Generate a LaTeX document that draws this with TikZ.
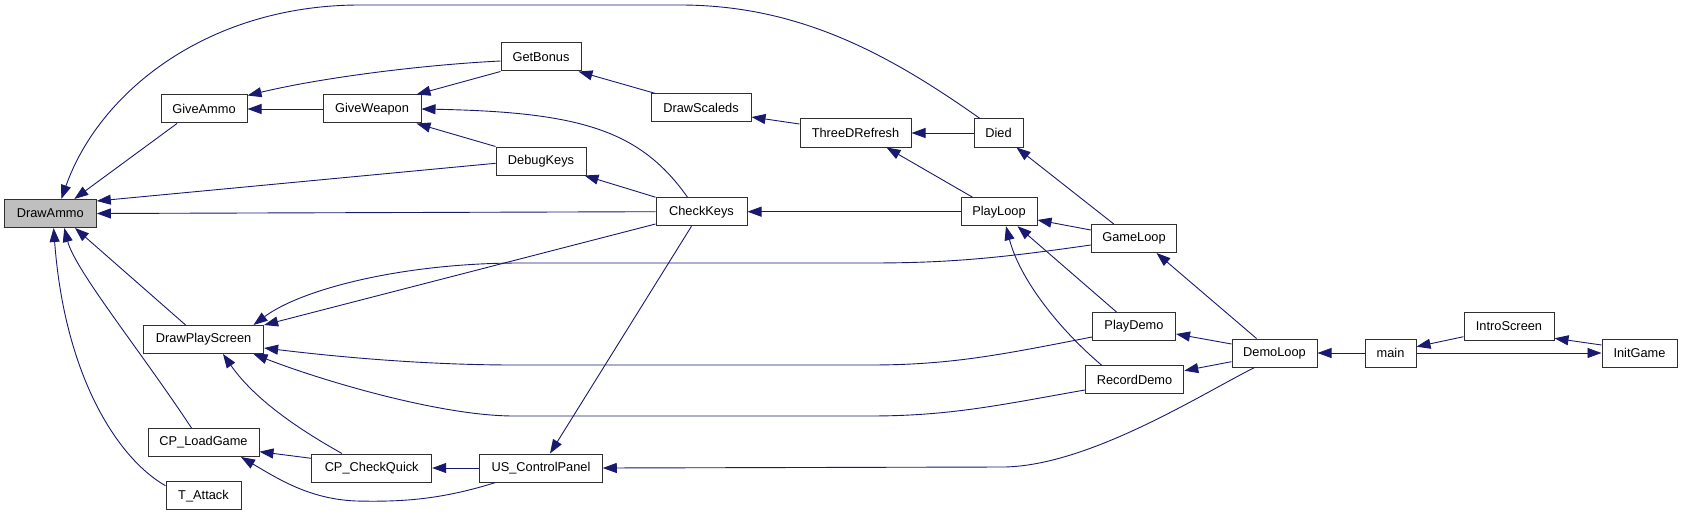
\documentclass[tikz,border=0pt]{standalone}
\usepackage{fontspec}
\setmainfont{Liberation Sans}
\usetikzlibrary{arrows.meta,calc}
\definecolor{edgeblue}{HTML}{191970}
\definecolor{hilite}{HTML}{BFBFBF}
\definecolor{boxline}{HTML}{303030}
\begin{document}
\begin{tikzpicture}[x=1pt,y=-1pt,
  fn/.style={draw=boxline, line width=1pt, fill=white, minimum height=28pt, inner xsep=10pt, inner ysep=0pt, font=\fontsize{12.8}{15}\selectfont, anchor=center},
  call/.style={draw=edgeblue, line width=0.9pt, -{Triangle[length=14pt,width=10pt]}, fill=none},
]
\useasboundingbox (0,0) rectangle (1683,516);
% nodes
\node[fn, minimum width=92pt, fill=hilite] (drawammo) at (50.3,213.5) {DrawAmmo};
\node[fn, minimum width=86pt] (giveammo) at (204,109) {GiveAmmo};
\node[fn, minimum width=98pt] (giveweapon) at (372,109) {GiveWeapon};
\node[fn, minimum width=80pt] (getbonus) at (541,57) {GetBonus};
\node[fn, minimum width=90pt] (debugkeys) at (541,161) {DebugKeys};
\node[fn, minimum width=100pt] (drawscaleds) at (701,107.7) {DrawScaleds};
\node[fn, minimum width=111pt] (threed) at (855.5,133) {ThreeDRefresh};
\node[fn, minimum width=49pt] (died) at (998.5,133) {Died};
\node[fn, minimum width=91pt] (checkkeys) at (701.5,211.7) {CheckKeys};
\node[fn, minimum width=76pt] (playloop) at (999,211.7) {PlayLoop};
\node[fn, minimum width=85.5pt] (gameloop) at (1134,238.5) {GameLoop};
\node[fn, minimum width=120pt] (drawplayscreen) at (203.6,339.5) {DrawPlayScreen};
\node[fn, minimum width=83pt] (playdemo) at (1134,326.5) {PlayDemo};
\node[fn, minimum width=98.5pt] (recorddemo) at (1134.5,379.8) {RecordDemo};
\node[fn, minimum width=85pt] (demoloop) at (1274.5,353) {DemoLoop};
\node[fn, minimum width=51pt] (main) at (1390.5,353) {main};
\node[fn, minimum width=90pt] (introscreen) at (1509,326.5) {IntroScreen};
\node[fn, minimum width=75pt] (initgame) at (1639.5,353) {InitGame};
\node[fn, minimum width=111pt] (cploadgame) at (203.5,442.5) {CP\_LoadGame};
\node[fn, minimum width=75pt] (tattack) at (203.5,495.7) {T\_Attack};
\node[fn, minimum width=120pt] (cpcheckquick) at (371.7,468) {CP\_CheckQuick};
\node[fn, minimum width=122.5pt] (uscontrolpanel) at (541,468) {US\_ControlPanel};
% edges
\draw[call] ($(died.north)+(-18.5,0)$) .. controls (890,55) and (800,5) .. (680,5) -- (360,5) .. controls (210,5) and (100,90) .. ($(drawammo.north)+(11,0)$);
\draw[call] ($(giveammo.south)+(-27,0)$) -- ($(drawammo.north)+(24,0)$);
\draw[call] ($(debugkeys.west)+(0,2.3)$) -- ($(drawammo.east)+(0,-12.5)$);
\draw[call] (checkkeys.west) -- (drawammo.east);
\draw[call] ($(drawplayscreen.north)+(-18,0)$) -- ($(drawammo.south)+(24.7,0)$);
\draw[call] ($(cploadgame.north)+(-12,0)$) .. controls (140,350) and (75,270) .. ($(drawammo.south)+(14,0)$);
\draw[call] ($(tattack.west)+(0,-10)$) .. controls (120,460) and (65,380) .. ($(drawammo.south)+(3.3,0)$);
\draw[call] ($(getbonus.west)+(0,4)$) .. controls (420,65) and (320,78) .. ($(giveammo.north east)+(0,1)$);
\draw[call] (giveweapon.west) -- (giveammo.east);
\draw[call] (getbonus.south west) -- ($(giveweapon.north east)+(-5,0)$);
\draw[call] ($(checkkeys.north)+(-14,0)$) .. controls (640,130) and (580,112) .. (giveweapon.east);
\draw[call] (debugkeys.north west) -- ($(giveweapon.south east)+(-5,0)$);
\draw[call] ($(drawscaleds.north west)+(4,0)$) -- ($(getbonus.south east)+(-3,0)$);
\draw[call] ($(threed.west)+(0,-9)$) -- ($(drawscaleds.east)+(0,9.3)$);
\draw[call] (died.west) -- (threed.east);
\draw[call] ($(playloop.north west)+(12,0)$) -- ($(threed.south east)+(-25,0)$);
\draw[call] ($(gameloop.north west)+(23,0)$) -- ($(died.south east)+(-7,0)$);
\draw[call] (checkkeys.north west) -- ($(debugkeys.south east)+(-2,0)$);
\draw[call] (playloop.west) -- (checkkeys.east);
\draw[call] ($(checkkeys.south)+(-10,0)$) -- ($(uscontrolpanel.north)+(9,0)$);
\draw[call] ($(gameloop.west)+(0,-8.5)$) -- ($(playloop.east)+(0,8.3)$);
\draw[call] ($(playdemo.north west)+(24.5,0)$) -- ($(playloop.south east)+(-20,0)$);
\draw[call] ($(recorddemo.north west)+(17,0)$) .. controls (1060,330) and (1020,280) .. ($(playloop.south)+(7,0)$);
\draw[call] ($(demoloop.north west)+(25,0)$) -- ($(gameloop.south east)+(-20.75,0)$);
\draw[call] ($(gameloop.west)+(0,6.5)$) .. controls (1000,258) and (950,263) .. (870,263) -- (520,263) .. controls (400,263) and (300,290) .. ($(drawplayscreen.north east)+(-10.6,0)$);
\draw[call] ($(checkkeys.west)+(0,12.3)$) -- (drawplayscreen.north east);
\draw[call] ($(playdemo.west)+(0,10.5)$) .. controls (1000,355) and (950,365) .. (870,365) -- (514,365) .. controls (420,365) and (330,356) .. ($(drawplayscreen.east)+(0,8.5)$);
\draw[call] ($(recorddemo.west)+(0,10.2)$) .. controls (1000,405) and (950,416) .. (870,416) -- (514,416) .. controls (440,416) and (320,380) .. ($(drawplayscreen.south east)+(-10.6,0)$);
\draw[call] ($(cpcheckquick.north)+(-29.7,0)$) .. controls (300,430) and (255,400) .. ($(drawplayscreen.south)+(19.4,0)$);
\draw[call] ($(demoloop.west)+(0,-9)$) -- ($(playdemo.east)+(0,7.5)$);
\draw[call] ($(demoloop.west)+(0,8.7)$) -- ($(recorddemo.east)+(0,-9.1)$);
\draw[call] ($(demoloop.south west)+(23,0)$) .. controls (1200,395) and (1090,465) .. (1005,467) -- (uscontrolpanel.east);
\draw[call] (main.west) -- (demoloop.east);
\draw[call] ($(introscreen.west)+(0,10.2)$) -- ($(main.east)+(0,-6.3)$);
\draw[call] ($(initgame.west)+(0,-8)$) -- ($(introscreen.east)+(0,11.8)$);
\draw[call] (main.east) -- (initgame.west);
\draw[call] ($(cpcheckquick.west)+(0,-9.7)$) -- ($(cploadgame.east)+(0,9.2)$);
\draw[call] ($(uscontrolpanel.south west)+(16.25,0)$) .. controls (440,500) and (400,502) .. (356,501) .. controls (310,499) and (280,480) .. ($(cploadgame.south)+(37.5,0)$);
\draw[call] (uscontrolpanel.west) -- (cpcheckquick.east);
\end{tikzpicture}
\end{document}
